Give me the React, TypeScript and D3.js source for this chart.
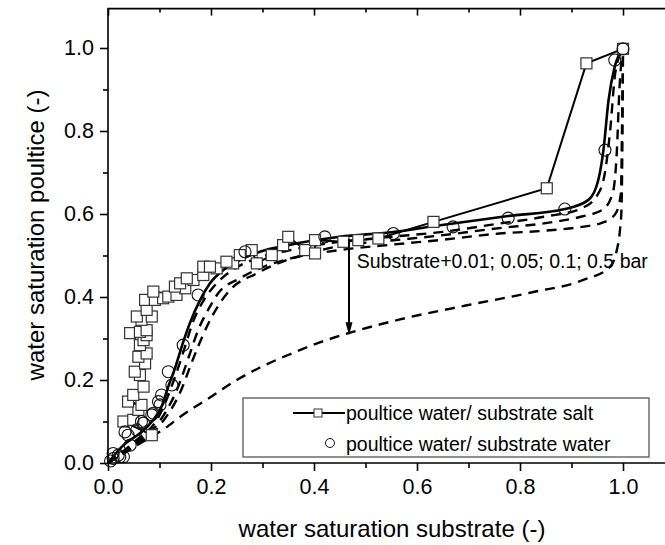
import { useEffect, useRef } from 'react';
import * as d3 from 'd3';

type Pt = [number, number];

// poultice water / substrate salt (squares, joined)
const saltPoints: Pt[] = [
  [0.085, 0.067], [0.030, 0.100], [0.049, 0.104], [0.059, 0.128], [0.065, 0.140], [0.039, 0.148],
  [0.049, 0.164], [0.069, 0.184], [0.062, 0.212], [0.052, 0.220], [0.072, 0.240], [0.059, 0.256],
  [0.075, 0.264], [0.062, 0.284], [0.069, 0.296], [0.075, 0.308], [0.043, 0.313], [0.062, 0.316],
  [0.075, 0.320], [0.065, 0.345], [0.056, 0.353], [0.085, 0.353], [0.075, 0.369], [0.072, 0.393],
  [0.091, 0.393], [0.107, 0.397], [0.117, 0.401], [0.088, 0.413], [0.133, 0.405], [0.150, 0.421],
  [0.130, 0.425], [0.140, 0.433], [0.166, 0.441], [0.153, 0.445], [0.185, 0.453], [0.211, 0.469],
  [0.185, 0.473], [0.198, 0.473], [0.243, 0.481], [0.230, 0.485], [0.256, 0.501], [0.279, 0.513],
  [0.289, 0.481], [0.318, 0.501], [0.340, 0.525], [0.350, 0.545], [0.383, 0.513], [0.402, 0.505],
  [0.402, 0.537], [0.457, 0.533], [0.486, 0.537], [0.525, 0.541], [0.632, 0.581], [0.852, 0.662],
  [0.929, 0.963], [1.0, 0.998],
];

// poultice water / substrate water (open circles)
const waterPoints: Pt[] = [
  [0.005, 0.005], [0.010, 0.011], [0.010, 0.023], [0.020, 0.019], [0.023, 0.015], [0.030, 0.015],
  [0.043, 0.043], [0.033, 0.075], [0.039, 0.067], [0.056, 0.080], [0.069, 0.096], [0.065, 0.100],
  [0.085, 0.116], [0.088, 0.120], [0.101, 0.140], [0.098, 0.148], [0.104, 0.164], [0.124, 0.188],
  [0.117, 0.220], [0.146, 0.284], [0.175, 0.405], [0.266, 0.509], [0.421, 0.545], [0.554, 0.553],
  [0.670, 0.569], [0.777, 0.590], [0.887, 0.612], [0.965, 0.754], [0.984, 0.971], [1.0, 0.998],
];

// model, substrate (solid)
const modelCurve: Pt[] = [
  [0, 0], [0.030, 0.043], [0.062, 0.072], [0.088, 0.104], [0.104, 0.136], [0.117, 0.184],
  [0.130, 0.228], [0.143, 0.280], [0.159, 0.337], [0.179, 0.393], [0.198, 0.433], [0.224, 0.465],
  [0.256, 0.489], [0.295, 0.509], [0.350, 0.525], [0.450, 0.545], [0.550, 0.556], [0.645, 0.573],
  [0.777, 0.595], [0.887, 0.612], [0.933, 0.634], [0.952, 0.682], [0.962, 0.754], [0.972, 0.875],
  [0.984, 0.955], [1.0, 0.998],
];

// model, substrate + 0.01 / 0.05 / 0.1 / 0.5 bar (dashed)
const bar001: Pt[] = [
  [0, 0], [0.05, 0.05], [0.1, 0.115], [0.128, 0.2], [0.147, 0.27], [0.165, 0.34], [0.19, 0.4],
  [0.211, 0.433], [0.243, 0.466], [0.282, 0.49], [0.35, 0.512], [0.45, 0.533], [0.55, 0.545],
  [0.65, 0.557], [0.76, 0.577], [0.85, 0.594], [0.92, 0.614], [0.95, 0.645], [0.965, 0.7],
  [0.975, 0.8], [0.985, 0.94], [1.0, 0.998],
];
const bar005: Pt[] = [
  [0, 0], [0.05, 0.045], [0.1, 0.1], [0.135, 0.18], [0.158, 0.26], [0.175, 0.32], [0.198, 0.377],
  [0.214, 0.409], [0.256, 0.445], [0.3, 0.472], [0.37, 0.498], [0.45, 0.523], [0.55, 0.536],
  [0.65, 0.549], [0.76, 0.566], [0.85, 0.578], [0.92, 0.594], [0.96, 0.61], [0.98, 0.65],
  [0.988, 0.75], [0.993, 0.9], [1.0, 0.998],
];
const bar01: Pt[] = [
  [0, 0], [0.05, 0.04], [0.1, 0.09], [0.14, 0.17], [0.165, 0.25], [0.185, 0.31], [0.205, 0.36],
  [0.237, 0.417], [0.289, 0.457], [0.347, 0.489], [0.45, 0.513], [0.55, 0.526], [0.65, 0.538],
  [0.76, 0.553], [0.85, 0.56], [0.92, 0.569], [0.96, 0.579], [0.985, 0.6], [0.996, 0.65],
  [0.998, 0.8], [1.0, 0.998],
];
const bar05: Pt[] = [
  [0, 0], [0.062, 0.047], [0.111, 0.084], [0.143, 0.114], [0.198, 0.158], [0.25, 0.2],
  [0.295, 0.23], [0.353, 0.262], [0.41, 0.29], [0.47, 0.314], [0.567, 0.346], [0.697, 0.38],
  [0.826, 0.412], [0.923, 0.441], [0.975, 0.473], [0.988, 0.513], [0.994, 0.56], [0.997, 0.61],
  [0.999, 0.8], [1.0, 0.998],
];
const dashedCurves = [bar001, bar005, bar01, bar05];

const xMajor = [0, 0.2, 0.4, 0.6, 0.8, 1.0];
const xMinor = [0.1, 0.3, 0.5, 0.7, 0.9, 1.1];
const yMajor = [0, 0.2, 0.4, 0.6, 0.8, 1.0];
const yMinor = [0.1, 0.3, 0.5, 0.7, 0.9];

const legendLabels = ['poultice water/ substrate salt', 'poultice water/ substrate water'];
const annotation = 'Substrate+0.01; 0.05; 0.1; 0.5 bar';
const arrowFrom: Pt = [0.468, 0.54];
const arrowTo: Pt = [0.468, 0.308];

const FONT = '"Liberation Sans", Arial, sans-serif';

export default function App() {
  const svgRef = useRef<SVGSVGElement>(null);

  useEffect(() => {
    if (!svgRef.current) return;
    const svg = d3.select(svgRef.current);
    svg.selectAll('*').remove();

    const x = d3.scaleLinear().domain([0, 1.1]).range([108, 108 + 515 * 1.1]);
    const y = d3.scaleLinear().domain([0, 1.095]).range([463, 463 - 415 * 1.095]);

    const line = d3.line<Pt>().x(d => x(d[0])).y(d => y(d[1]));
    const smooth = d3.line<Pt>().x(d => x(d[0])).y(d => y(d[1])).curve(d3.curveMonotoneX);

    // dashed model curves
    dashedCurves.forEach(c => {
      svg.append('path').attr('d', smooth(c)!).attr('fill', 'none')
        .attr('stroke', '#000').attr('stroke-width', 2.4).attr('stroke-dasharray', '10,7');
    });

    // solid model curve
    svg.append('path').attr('d', smooth(modelCurve)!).attr('fill', 'none')
      .attr('stroke', '#000').attr('stroke-width', 2.6);

    // salt series
    svg.append('path').attr('d', line(saltPoints)!).attr('fill', 'none')
      .attr('stroke', '#000').attr('stroke-width', 2);
    svg.selectAll('.sq').data(saltPoints).join('rect').attr('class', 'sq')
      .attr('x', d => x(d[0]) - 5.5).attr('y', d => y(d[1]) - 5.5)
      .attr('width', 11).attr('height', 11)
      .attr('fill', '#fff').attr('stroke', '#333').attr('stroke-width', 1.2);

    // water series
    svg.selectAll('.ci').data(waterPoints).join('circle').attr('class', 'ci')
      .attr('cx', d => x(d[0])).attr('cy', d => y(d[1])).attr('r', 6)
      .attr('fill', 'none').attr('stroke', '#111').attr('stroke-width', 1.1);

    // arrow + annotation
    svg.append('line')
      .attr('x1', x(arrowFrom[0])).attr('x2', x(arrowTo[0]))
      .attr('y1', y(arrowFrom[1])).attr('y2', y(arrowTo[1]) - 8)
      .attr('stroke', '#000').attr('stroke-width', 2);
    const ax = x(arrowTo[0]), ay = y(arrowTo[1]);
    svg.append('path').attr('d', `M${ax},${ay} L${ax - 3.5},${ay - 13} L${ax + 3.5},${ay - 13} Z`).attr('fill', '#000');
    svg.append('text').attr('x', x(0.483)).attr('y', y(0.47))
      .attr('font-family', FONT).attr('font-size', 19.5).attr('fill', '#000').text(annotation);

    // frame
    const x0 = x(0), y0 = y(0), yTop = y(1.095), xEnd = 700;
    svg.append('path').attr('d', `M${xEnd},${yTop} H${x0} V${y0} H${xEnd}`)
      .attr('fill', 'none').attr('stroke', '#000').attr('stroke-width', 1.6);

    const style = (g: d3.Selection<SVGGElement, unknown, null, undefined>) => {
      g.select('.domain').remove();
      g.selectAll('line').attr('stroke', '#000').attr('stroke-width', 1.6);
      g.selectAll('text').attr('font-family', FONT).attr('font-size', 21.5).attr('fill', '#000');
    };
    const fmt = d3.format('.1f');

    svg.append('g').attr('transform', `translate(0,${y0})`)
      .call(d3.axisBottom(x).tickValues(xMajor).tickFormat(d => fmt(d as number)).tickSize(8).tickPadding(8))
      .call(style);
    svg.append('g').attr('transform', `translate(0,${y0})`)
      .call(d3.axisBottom(x).tickValues(xMinor).tickFormat(() => '').tickSize(5)).call(style);
    svg.append('g').attr('transform', `translate(0,${yTop})`)
      .call(d3.axisTop(x).tickValues(xMajor).tickFormat(() => '').tickSize(-7)).call(style);
    svg.append('g').attr('transform', `translate(0,${yTop})`)
      .call(d3.axisTop(x).tickValues(xMinor).tickFormat(() => '').tickSize(-4)).call(style);
    svg.append('g').attr('transform', `translate(${x0},0)`)
      .call(d3.axisLeft(y).tickValues(yMajor).tickFormat(d => fmt(d as number)).tickSize(8).tickPadding(6))
      .call(style);
    svg.append('g').attr('transform', `translate(${x0},0)`)
      .call(d3.axisLeft(y).tickValues(yMinor).tickFormat(() => '').tickSize(5)).call(style);

    // axis titles
    svg.append('text').attr('x', 392).attr('y', 537).attr('text-anchor', 'middle')
      .attr('font-family', FONT).attr('font-size', 24).text('water saturation substrate (-)');
    svg.append('text').attr('transform', 'translate(44,235) rotate(-90)').attr('text-anchor', 'middle')
      .attr('font-family', FONT).attr('font-size', 24).text('water saturation poultice (-)');

    // legend
    const leg = svg.append('g');
    leg.append('rect').attr('x', 243).attr('y', 398).attr('width', 406).attr('height', 59)
      .attr('fill', '#fff').attr('stroke', '#555').attr('stroke-width', 1.3);
    leg.append('line').attr('x1', 293).attr('x2', 345).attr('y1', 413).attr('y2', 413)
      .attr('stroke', '#000').attr('stroke-width', 2);
    leg.append('rect').attr('x', 314).attr('y', 409).attr('width', 8).attr('height', 8)
      .attr('fill', '#fff').attr('stroke', '#333').attr('stroke-width', 1);
    leg.append('circle').attr('cx', 330).attr('cy', 443).attr('r', 4.5)
      .attr('fill', 'none').attr('stroke', '#111').attr('stroke-width', 1);
    legendLabels.forEach((t, i) => {
      leg.append('text').attr('x', 346).attr('y', 420 + i * 31)
        .attr('font-family', FONT).attr('font-size', 19.5).attr('fill', '#000').text(t);
    });
  }, []);

  return (
    <svg ref={svgRef} width={665} height={545}
      style={{ position: 'absolute', left: 0, top: 0, background: '#fff' }} />
  );
}
